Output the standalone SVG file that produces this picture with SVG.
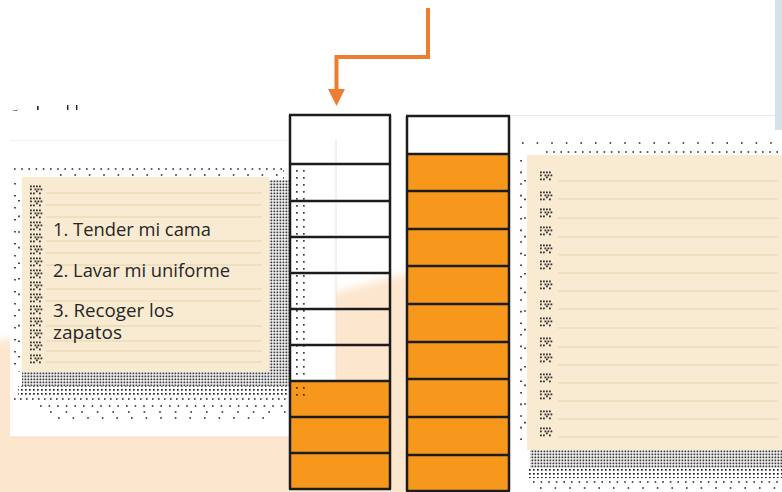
<svg xmlns="http://www.w3.org/2000/svg" width="782" height="492" viewBox="0 0 782 492">
  <style>
    .pad { fill: #f9ebd1; }
    .rule { stroke: #e8d3ae; stroke-width: 1.2; }
    .cell { stroke: #1c1c1c; stroke-width: 2.5; }
    .or { fill: #f7981d; }
    .txt { font-family: "Open Sans", "Liberation Sans", sans-serif; font-size: 17.5px; font-weight: 500; fill: #262626; }
    .drow { stroke: #222; stroke-width: 1.6; fill: none; }
  </style>
  <defs>
    <pattern id="dense" width="3" height="3" patternUnits="userSpaceOnUse">
      <rect x="0.5" y="0.5" width="1.8" height="1.8" fill="#222"/>
    </pattern>
    <pattern id="med" width="4" height="4" patternUnits="userSpaceOnUse">
      <rect x="1" y="1" width="1.7" height="1.7" fill="#222"/>
    </pattern>
    <pattern id="sparse" width="7" height="7" patternUnits="userSpaceOnUse">
      <rect x="2" y="2" width="1.7" height="1.7" fill="#222"/>
    </pattern>
    <filter id="blur" x="-10%" y="-20%" width="120%" height="140%">
      <feGaussianBlur stdDeviation="4"/>
    </filter>
    <symbol id="ring" viewBox="0 0 14 10" overflow="visible">
      <g fill="#333">
        <rect x="1" y="0.5" width="1.8" height="1.8"/><rect x="4" y="0.5" width="1.8" height="1.8"/><rect x="7" y="0.5" width="1.8" height="1.8"/><rect x="10" y="0.5" width="1.8" height="1.8"/>
        <rect x="1" y="3.5" width="1.8" height="1.8"/><rect x="5.5" y="3.5" width="1.8" height="1.8"/><rect x="8.5" y="3.5" width="1.8" height="1.8"/><rect x="11.5" y="3.5" width="1.8" height="1.8"/>
        <rect x="7" y="5.5" width="1.8" height="1.8"/>
        <rect x="1" y="7.5" width="1.8" height="1.8"/><rect x="4" y="7.5" width="1.8" height="1.8"/><rect x="10" y="7.5" width="1.8" height="1.8"/>
      </g>
    </symbol>
    <marker id="ah" markerUnits="userSpaceOnUse" markerWidth="18" markerHeight="17" refX="0" refY="8.5" orient="auto">
      <path d="M0,0 L17,8.5 L0,17 z" fill="#ed7d31"/>
    </marker>
  </defs>

  <!-- background -->
  <rect x="0" y="0" width="782" height="492" fill="#ffffff"/>
  <path d="M-10,342 C80,328 200,316 300,300 C340,292 380,280 420,270 L520,255 L520,500 L-10,500 z" fill="#fce6cd" filter="url(#blur)"/>
  <rect x="10" y="140" width="326" height="297" fill="#ffffff"/>
  <line x1="10" y1="140.5" x2="290" y2="140.5" stroke="#f0f0f0" stroke-width="1"/>
  <line x1="10" y1="437" x2="290" y2="437" stroke="#f6dcc0" stroke-width="1"/>
  <line x1="336" y1="140" x2="336" y2="381" stroke="#e2e2e2" stroke-width="1"/>
  <rect x="510" y="115" width="272" height="377" fill="#ffffff"/>
  <line x1="510" y1="115.5" x2="778" y2="115.5" stroke="#ececec" stroke-width="1"/>
  <rect x="775" y="0" width="7" height="130" fill="#d2e2eb"/>

  <!-- clipped text fragments at top left -->
  <g fill="#222">
    <path d="M11,111 L18,110 L19,108 L17,111 z"/>
    <rect x="37" y="106" width="1.6" height="4"/>
    <rect x="67" y="105" width="1.4" height="5"/>
    <rect x="76" y="105" width="1.4" height="5"/>
  </g>

  <!-- left to-do list -->
  <g id="list-left">
    <line class="drow" x1="14" y1="169" x2="284" y2="169" stroke-dasharray="1.6 5.6"/>
    <line class="drow" x1="60" y1="175" x2="284" y2="175" stroke-dasharray="1.6 12.8"/>
    <line class="drow" x1="15" y1="183" x2="15" y2="372" stroke-dasharray="1.6 10.4"/>
    <line class="drow" x1="19" y1="200" x2="19" y2="372" stroke-dasharray="1.6 14"/>
    <rect x="268" y="180" width="22" height="192" fill="url(#dense)" opacity="0.9"/>
    <rect x="283" y="168" width="7" height="12" fill="url(#sparse)"/>
    <rect x="22" y="372" width="268" height="14" fill="url(#dense)" opacity="0.9"/>
    <rect x="18" y="386" width="272" height="10" fill="url(#med)"/>
    <line class="drow" x1="14" y1="399" x2="288" y2="399" stroke-dasharray="1.6 4.4"/>
    <line class="drow" x1="40" y1="406" x2="288" y2="406" stroke-dasharray="1.6 7"/>
    <line class="drow" x1="50" y1="412" x2="288" y2="412" stroke-dasharray="1.6 14"/>
    <line class="drow" x1="58" y1="418" x2="265" y2="418" stroke-dasharray="1.6 13"/>

    <rect class="pad" x="22" y="177" width="247" height="195"/>
    <g class="rule">
      <line x1="46" y1="193" x2="262" y2="193"/>
      <line x1="46" y1="205" x2="262" y2="205"/>
      <line x1="46" y1="217" x2="262" y2="217"/>
      <line x1="46" y1="241" x2="262" y2="241"/>
      <line x1="46" y1="253" x2="262" y2="253"/>
      <line x1="46" y1="265" x2="262" y2="265"/>
      <line x1="46" y1="289" x2="262" y2="289"/>
      <line x1="46" y1="301" x2="262" y2="301"/>
      <line x1="46" y1="326" x2="262" y2="326"/>
      <line x1="46" y1="341" x2="262" y2="341"/>
      <line x1="46" y1="351" x2="262" y2="351"/>
      <line x1="46" y1="362" x2="262" y2="362"/>
    </g>
    <g>
      <use href="#ring" x="29" y="185" width="14" height="10"/>
      <use href="#ring" x="29" y="197" width="14" height="10"/>
      <use href="#ring" x="29" y="209" width="14" height="10"/>
      <use href="#ring" x="29" y="221" width="14" height="10"/>
      <use href="#ring" x="29" y="233" width="14" height="10"/>
      <use href="#ring" x="29" y="245" width="14" height="10"/>
      <use href="#ring" x="29" y="257" width="14" height="10"/>
      <use href="#ring" x="29" y="269" width="14" height="10"/>
      <use href="#ring" x="29" y="281" width="14" height="10"/>
      <use href="#ring" x="29" y="293" width="14" height="10"/>
      <use href="#ring" x="29" y="305" width="14" height="10"/>
      <use href="#ring" x="29" y="317" width="14" height="10"/>
      <use href="#ring" x="29" y="329" width="14" height="10"/>
      <use href="#ring" x="29" y="341" width="14" height="10"/>
      <use href="#ring" x="29" y="354" width="14" height="10"/>
    </g>
    <text class="txt" x="53" y="236" textLength="158" lengthAdjust="spacingAndGlyphs">1. Tender mi cama</text>
    <text class="txt" x="53" y="277" textLength="177" lengthAdjust="spacingAndGlyphs">2. Lavar mi uniforme</text>
    <text class="txt" x="53" y="317" textLength="121" lengthAdjust="spacingAndGlyphs">3. Recoger los</text>
    <text class="txt" x="53" y="339" textLength="69" lengthAdjust="spacingAndGlyphs">zapatos</text>
  </g>

  <!-- right to-do list (empty) -->
  <g id="list-right">
    <line class="drow" x1="522" y1="143" x2="782" y2="143" stroke-dasharray="1.6 13"/>
    <line class="drow" x1="546" y1="152" x2="782" y2="152" stroke-dasharray="1.6 5.6"/>
    <line class="drow" x1="521" y1="160" x2="521" y2="450" stroke-dasharray="1.6 10"/>
    <line class="drow" x1="525" y1="180" x2="525" y2="440" stroke-dasharray="1.6 17"/>
    <rect x="530" y="450" width="252" height="18" fill="url(#dense)" opacity="0.9"/>
    <rect x="528" y="468" width="254" height="10" fill="url(#med)"/>
    <line class="drow" x1="533" y1="482" x2="782" y2="482" stroke-dasharray="1.6 6"/>
    <line class="drow" x1="540" y1="488" x2="782" y2="488" stroke-dasharray="1.6 13"/>
    <rect class="pad" x="527" y="155" width="255" height="295"/>
    <g class="rule">
      <line x1="558" y1="181" x2="778" y2="181"/>
      <line x1="558" y1="199" x2="778" y2="199"/>
      <line x1="558" y1="218" x2="778" y2="218"/>
      <line x1="558" y1="237" x2="778" y2="237"/>
      <line x1="558" y1="255" x2="778" y2="255"/>
      <line x1="558" y1="273" x2="778" y2="273"/>
      <line x1="558" y1="291" x2="778" y2="291"/>
      <line x1="558" y1="309" x2="778" y2="309"/>
      <line x1="558" y1="328" x2="778" y2="328"/>
      <line x1="558" y1="347" x2="778" y2="347"/>
      <line x1="558" y1="365" x2="778" y2="365"/>
      <line x1="558" y1="383" x2="778" y2="383"/>
      <line x1="558" y1="401" x2="778" y2="401"/>
      <line x1="558" y1="419" x2="778" y2="419"/>
      <line x1="558" y1="437" x2="778" y2="437"/>
    </g>
    <g>
      <use href="#ring" x="539" y="170" width="14" height="12"/>
      <use href="#ring" x="539" y="190" width="14" height="12"/>
      <use href="#ring" x="539" y="207" width="14" height="12"/>
      <use href="#ring" x="539" y="225" width="14" height="12"/>
      <use href="#ring" x="539" y="243" width="14" height="12"/>
      <use href="#ring" x="539" y="259" width="14" height="12"/>
      <use href="#ring" x="539" y="279" width="14" height="12"/>
      <use href="#ring" x="539" y="299" width="14" height="12"/>
      <use href="#ring" x="539" y="316" width="14" height="12"/>
      <use href="#ring" x="539" y="336" width="14" height="12"/>
      <use href="#ring" x="539" y="352" width="14" height="12"/>
      <use href="#ring" x="539" y="372" width="14" height="12"/>
      <use href="#ring" x="539" y="389" width="14" height="12"/>
      <use href="#ring" x="539" y="409" width="14" height="12"/>
      <use href="#ring" x="539" y="426" width="14" height="12"/>
    </g>
  </g>

  <!-- left stack: 10 cells, 3 filled -->
  <g id="stack-left">
    <rect class="or" x="290" y="381" width="100" height="108"/>
    <g class="cell">
      <line x1="290" y1="115" x2="290" y2="489"/>
      <line x1="390" y1="115" x2="390" y2="489"/>
      <line x1="289" y1="115" x2="391" y2="115"/>
      <line x1="289" y1="164" x2="391" y2="164"/>
      <line x1="289" y1="201" x2="391" y2="201"/>
      <line x1="289" y1="237" x2="391" y2="237"/>
      <line x1="289" y1="273" x2="391" y2="273"/>
      <line x1="289" y1="309" x2="391" y2="309"/>
      <line x1="289" y1="345" x2="391" y2="345"/>
      <line x1="289" y1="381" x2="391" y2="381"/>
      <line x1="289" y1="417" x2="391" y2="417"/>
      <line x1="289" y1="453" x2="391" y2="453"/>
      <line x1="289" y1="489" x2="391" y2="489"/>
    </g>
    <rect x="291" y="166" width="19" height="230" fill="url(#sparse)" opacity="0.9"/>
  </g>

  <!-- right stack: 10 cells, 9 filled -->
  <g id="stack-right">
    <rect class="or" x="407" y="154" width="102" height="337"/>
    <g class="cell">
      <line x1="407" y1="116" x2="407" y2="491"/>
      <line x1="509" y1="116" x2="509" y2="491"/>
      <line x1="406" y1="116" x2="510" y2="116"/>
      <line x1="406" y1="154" x2="510" y2="154"/>
      <line x1="406" y1="191" x2="510" y2="191"/>
      <line x1="406" y1="229" x2="510" y2="229"/>
      <line x1="406" y1="266" x2="510" y2="266"/>
      <line x1="406" y1="304" x2="510" y2="304"/>
      <line x1="406" y1="342" x2="510" y2="342"/>
      <line x1="406" y1="379" x2="510" y2="379"/>
      <line x1="406" y1="417" x2="510" y2="417"/>
      <line x1="406" y1="455" x2="510" y2="455"/>
      <line x1="406" y1="491" x2="510" y2="491"/>
    </g>
  </g>

  <!-- connectors -->
  <g id="connectors">
    <path d="M428,8 L428,57 L336.5,57 L336.5,89" fill="none" stroke="#ed7d31" stroke-width="4" marker-end="url(#ah)"/>
  </g>
</svg>
